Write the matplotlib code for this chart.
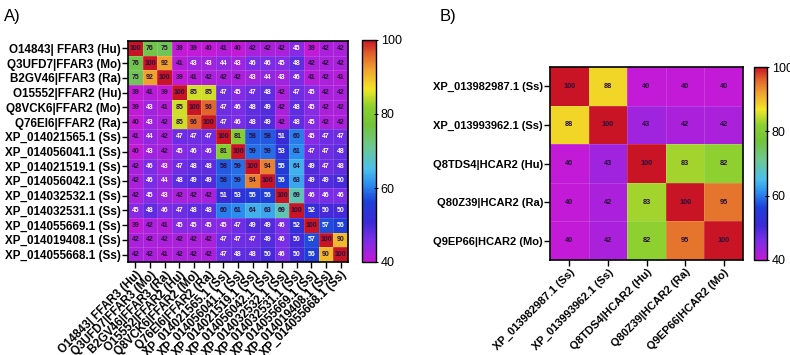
import numpy as np
import matplotlib
matplotlib.use("Agg")
import matplotlib.pyplot as plt
from matplotlib.colors import LinearSegmentedColormap

plt.rcParams["font.family"] = ["Liberation Sans", "DejaVu Sans"]

# Panel A labels and identity matrix
labels_a = ["O14843| FFAR3 (Hu)", "Q3UFD7|FFAR3 (Mo)", "B2GV46|FFAR3 (Ra)",
            "O15552|FFAR2 (Hu)", "Q8VCK6|FFAR2 (Mo)", "Q76EI6|FFAR2 (Ra)",
            "XP_014021565.1 (Ss)", "XP_014056041.1 (Ss)", "XP_014021519.1 (Ss)",
            "XP_014056042.1 (Ss)", "XP_014032532.1 (Ss)", "XP_014032531.1 (Ss)",
            "XP_014055669.1 (Ss)", "XP_014019408.1 (Ss)", "XP_014055668.1 (Ss)"]
values_a = [
    [100, 76, 75, 39, 39, 40, 41, 40, 42, 42, 42, 45, 39, 42, 42],
    [76, 100, 92, 41, 43, 43, 44, 43, 46, 46, 45, 48, 42, 42, 42],
    [75, 92, 100, 39, 41, 42, 42, 42, 43, 44, 43, 46, 41, 42, 41],
    [39, 41, 39, 100, 85, 85, 47, 45, 47, 48, 42, 47, 45, 42, 42],
    [39, 43, 41, 85, 100, 96, 47, 46, 48, 49, 42, 48, 45, 42, 42],
    [40, 43, 42, 85, 96, 100, 47, 46, 48, 49, 42, 48, 45, 42, 42],
    [41, 44, 42, 47, 47, 47, 100, 81, 58, 58, 51, 60, 45, 47, 47],
    [40, 43, 42, 45, 46, 46, 81, 100, 59, 59, 53, 61, 47, 47, 48],
    [42, 46, 43, 47, 48, 48, 58, 59, 100, 94, 55, 64, 49, 47, 48],
    [42, 46, 44, 48, 49, 49, 58, 59, 94, 100, 56, 63, 49, 49, 50],
    [42, 45, 43, 42, 42, 42, 51, 53, 55, 56, 100, 69, 46, 46, 46],
    [45, 48, 46, 47, 48, 48, 60, 61, 64, 63, 69, 100, 52, 50, 50],
    [39, 42, 41, 45, 45, 45, 45, 47, 49, 49, 46, 52, 100, 57, 56],
    [42, 42, 42, 42, 42, 42, 47, 47, 47, 49, 46, 50, 57, 100, 90],
    [42, 42, 41, 42, 42, 42, 47, 48, 48, 50, 46, 50, 56, 90, 100],
]

# Panel B labels and identity matrix
labels_b = ["XP_013982987.1 (Ss)", "XP_013993962.1 (Ss)", "Q8TDS4|HCAR2 (Hu)",
            "Q80Z39|HCAR2 (Ra)", "Q9EP66|HCAR2 (Mo)"]
values_b = [
    [100, 88, 40, 40, 40],
    [88, 100, 43, 42, 42],
    [40, 43, 100, 83, 82],
    [40, 42, 83, 100, 95],
    [40, 42, 82, 95, 100],
]

# rainbow-like colour scale, 40 -> 100
stops = [(0.00, "#c21ad6"), (0.10, "#7a2ee6"), (0.18, "#3a2ad6"),
         (0.27, "#1f3fd8"), (0.35, "#2c8ef0"), (0.42, "#4cc0ea"),
         (0.52, "#6cc890"), (0.62, "#74c43a"), (0.70, "#8cd030"),
         (0.78, "#f2e626"), (0.87, "#f0a030"), (0.94, "#e0602c"),
         (1.00, "#c81424")]
cmap = LinearSegmentedColormap.from_list("prism_rainbow", stops)

fig = plt.figure(figsize=(7.9, 3.55), dpi=100)
W, H = 790, 355


def box(x0, y0, x1, y1):
    return [x0 / W, 1 - y1 / H, (x1 - x0) / W, (y1 - y0) / H]


def draw(ax, cax, labels, values, fs_lab, fs_cell, text_rule):
    data = np.array(values)
    n = len(labels)
    im = ax.imshow(data, cmap=cmap, vmin=40, vmax=100, aspect="auto",
                   interpolation="nearest")
    for k in range(n + 1):
        ax.axhline(k - 0.5, color="white", lw=0.4, alpha=0.25)
        ax.axvline(k - 0.5, color="white", lw=0.4, alpha=0.25)
    for i in range(n):
        for j in range(n):
            ax.text(j, i, str(values[i][j]), ha="center", va="center",
                    fontsize=fs_cell, color=text_rule(values[i][j]),
                    fontweight="bold")
    ax.set_xticks(range(n))
    ax.set_yticks(range(n))
    ax.set_xticklabels(labels, rotation=45, ha="right", rotation_mode="anchor",
                       fontsize=fs_lab, fontweight="bold")
    ax.set_yticklabels(labels, fontsize=fs_lab, fontweight="bold")
    ax.tick_params(length=4, width=1, pad=1)
    for s in ax.spines.values():
        s.set_linewidth(1.2)
    cb = fig.colorbar(im, cax=cax, ticks=[40, 60, 80, 100])
    cb.outline.set_linewidth(1.0)
    cax.tick_params(labelsize=9, length=3, direction="inout", pad=2)


def rule_a(v):
    if v <= 42 or v >= 58:
        return "#2a0f3c"
    return "white"


ax_a = fig.add_axes(box(128, 41, 348, 262))
cax_a = fig.add_axes(box(362, 40, 376, 262))
draw(ax_a, cax_a, labels_a, values_a, 8.4, 5.0, rule_a)

ax_b = fig.add_axes(box(550, 67, 743, 260))
cax_b = fig.add_axes(box(754, 67, 767, 260))
draw(ax_b, cax_b, labels_b, values_b, 8.0, 5.3, lambda v: "#2a0f3c")

fig.text(4 / W, 1 - 16 / H, "A)", fontsize=12, va="center", ha="left")
fig.text(440 / W, 1 - 16 / H, "B)", fontsize=12, va="center", ha="left")

fig.savefig("out.png", dpi=100)
